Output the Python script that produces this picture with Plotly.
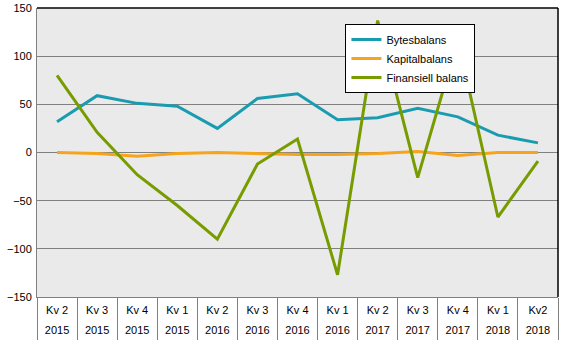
import plotly.graph_objects as go

quarters = ["Kv 2", "Kv 3", "Kv 4", "Kv 1", "Kv 2", "Kv 3", "Kv 4", "Kv 1", "Kv 2", "Kv 3", "Kv 4", "Kv 1", "Kv2"]
years = ["2015", "2015", "2015", "2015", "2016", "2016", "2016", "2016", "2017", "2017", "2017", "2018", "2018"]
bytesbalans = [32, 59, 51, 48, 25, 56, 61, 34, 36, 46, 37, 18, 10]
kapitalbalans = [0, -1, -4, -1, 0, -1, -2, -2, -1, 1, -3, 0, 0]
finansiell = [80, 21, -23, -55, -90, -12, 14, -127, 137, -26, 117, -67, -9]
y_ticks = [-150, -100, -50, 0, 50, 100, 150]

idx = list(range(len(quarters)))
bounds = [i - 0.5 for i in range(len(quarters) + 1)]

FONT = "Liberation Sans, Arial, sans-serif"

fig = go.Figure()
series = [
    ("Bytesbalans", bytesbalans, "#1A9CB0"),
    ("Kapitalbalans", kapitalbalans, "#F5A41C"),
    ("Finansiell balans", finansiell, "#789B00"),
]
for name, vals, col in series:
    fig.add_trace(go.Scatter(x=idx, y=vals, name=name, mode="lines",
                             line=dict(color=col, width=3), hoverinfo="skip"))

# dummy traces to activate label axes
fig.add_trace(go.Scatter(x=[], y=[], xaxis="x2", showlegend=False, hoverinfo="skip"))
fig.add_trace(go.Scatter(x=[], y=[], xaxis="x3", showlegend=False, hoverinfo="skip"))

xr = [-0.5, len(quarters) - 0.5]
fig.update_layout(
    template="none",
    width=567, height=340,
    margin=dict(l=37, r=9, t=8, b=43),
    paper_bgcolor="white",
    plot_bgcolor="#EAEAEA",
    font=dict(family=FONT, size=11, color="black"),
    showlegend=True,
    legend=dict(x=0.592, y=0.945, xanchor="left", yanchor="top",
                bgcolor="white", bordercolor="black", borderwidth=1,
                font=dict(family=FONT, size=11, color="black"),
                tracegroupgap=0),
    xaxis=dict(range=xr, tickmode="array", tickvals=bounds, ticks="outside",
               ticklen=43, tickcolor="#808080", tickwidth=1,
               showticklabels=False, showgrid=False, zeroline=False,
               showline=True, linecolor="#808080", linewidth=1, automargin=False),
    xaxis2=dict(range=xr, overlaying="x", anchor="y", side="bottom",
                tickmode="array", tickvals=idx, ticktext=quarters, ticks="",
                showgrid=False, zeroline=False, showline=False,
                ticklabelstandoff=5, automargin=False,
                tickfont=dict(family=FONT, size=11, color="black")),
    xaxis3=dict(range=xr, overlaying="x", anchor="y", side="bottom",
                tickmode="array", tickvals=idx, ticktext=years, ticks="",
                showgrid=False, zeroline=False, showline=False,
                ticklabelstandoff=25, automargin=False,
                tickfont=dict(family=FONT, size=11, color="black")),
    yaxis=dict(range=[-150, 150], tickmode="array", tickvals=y_ticks,
               ticks="", showgrid=True, gridcolor="#808080", gridwidth=1,
               zeroline=False, showline=True, linecolor="#808080", linewidth=1,
               automargin=False, ticklabelstandoff=2,
               tickfont=dict(family=FONT, size=11, color="black")),
    shapes=[
        dict(type="line", xref="paper", yref="paper", x0=0, x1=1, y0=1, y1=1,
             line=dict(color="black", width=1.5)),
        dict(type="line", xref="paper", yref="paper", x0=1, x1=1, y0=0, y1=1,
             line=dict(color="black", width=1.5)),
    ],
)

fig.write_html("out.html")
